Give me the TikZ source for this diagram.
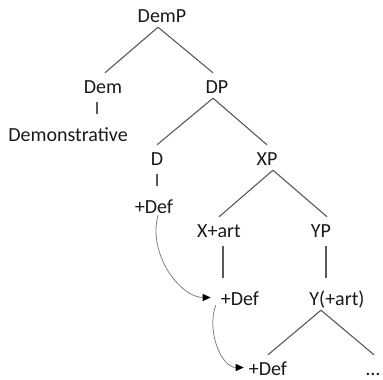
\documentclass[tikz,border=0pt]{standalone}
\usepackage{fontspec}
\setmainfont{Carlito}
\usetikzlibrary{arrows.meta}

\begin{document}
\begin{tikzpicture}[x=1pt,y=-1pt,
  lbl/.style={anchor=base,inner sep=0pt,text height=20pt,text depth=5pt,
    text=black!90,font=\fontsize{20}{22}\selectfont},
  branch/.style={draw=black!65,line width=1.1pt},
  stem/.style={branch,shorten <=4pt,shorten >=7pt},
  move/.style={draw=black!50,line width=0.8pt,
    -{Triangle[length=8pt,width=7pt,color=black]}}]

\useasboundingbox (0,0) rectangle (383,380);

% Labels
  \node[lbl] (DemP) at (162,22) {DemP};
  \node[lbl] (Dem)  at (103,93) {Dem};
  \node[lbl] (DP)   at (217,93) {DP};
  \node[lbl] (Demo) at (68,141) {Demonstrative};
  \node[lbl] (D)    at (157,165) {D};
  \node[lbl] (XP)   at (267,165) {XP};
  \node[lbl] (Def1) at (154,213) {+Def};
  \node[lbl] (Xart) at (219,237) {X+art};
  \node[lbl] (YP)   at (321,237) {YP};
  \node[lbl] (Def2) at (240,305) {+Def};
  \node[lbl] (Yart) at (337,305) {Y(+art)};
  \node[lbl] (Def3) at (268,375) {+Def};
  \node[lbl] (dots) at (373,375) {\dots};

% Branches
  \draw[branch] ([xshift=-4pt]DemP.south) -- ([xshift=2pt]Dem.north);
  \draw[branch] ([xshift=-4pt]DemP.south) -- ([xshift=-4pt]DP.north);
  \draw[branch] ([xshift=-4pt]DP.south) -- (D.north);
  \draw[branch] ([xshift=-4pt]DP.south) -- (XP.north);
  \draw[branch] ([xshift=6pt]XP.south) -- (Xart.north);
  \draw[branch] ([xshift=6pt]XP.south) -- ([xshift=6pt]YP.north);
  \draw[branch] (YP.south |- Yart.south) -- (Def3.north);
  \draw[branch] (YP.south |- Yart.south) -- ([xshift=1pt]dots.north);

% Stems
  \draw[stem] ([xshift=-6pt]Dem.south) -- ([xshift=-6pt]Dem.south |- Demo.north);
  \draw[stem] (D.south) -- (D.south |- Def1.north);
  \draw[stem] ([xshift=4pt]Xart.south) -- ([xshift=4pt]Xart.south |- Def2.north);
  \draw[stem] ([xshift=5pt]YP.south) -- ([xshift=5pt]YP.south |- Yart.north);

% Movement
  \draw[move,shorten >=10pt] ([xshift=4pt,yshift=3pt]Def1.south) to[out=-105,in=180] (Def2.west);
  \draw[move,shorten >=5pt] ([xshift=-5pt,yshift=5pt]Def2.south west) to[out=-110,in=180] (Def3.west);
\end{tikzpicture}
\end{document}
